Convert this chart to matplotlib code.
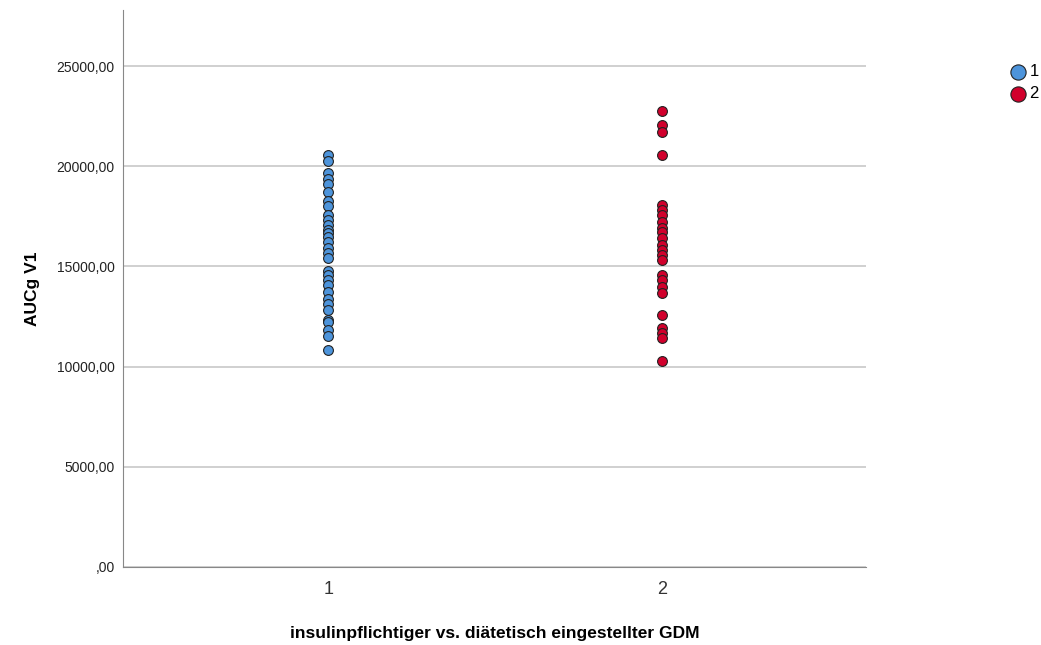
import numpy as np
import matplotlib
matplotlib.use("Agg")
import matplotlib.pyplot as plt

plt.rcParams["font.family"] = ["Liberation Sans", "DejaVu Sans"]

# AUCg V1 per group (1 = insulinpflichtig, 2 = diätetisch eingestellt)
group_labels = ["1", "2"]
auc_group1 = [20560, 20260, 19660, 19360, 19110, 18710, 18260, 18010, 17560,
              17310, 17060, 16810, 16660, 16460, 16210, 15910, 15660, 15410,
              14760, 14560, 14310, 14060, 13710, 13360, 13110, 12810, 12310,
              12210, 11810, 11510, 10810]
auc_group2 = [22760, 22060, 21710, 20560, 18060, 17810, 17560, 17210, 16910,
              16710, 16410, 16060, 15810, 15560, 15310, 14560, 14310, 13960,
              13660, 12560, 11910, 11660, 11410, 10260]
y_ticks = [0, 5000, 10000, 15000, 20000, 25000]

colors = ["#4d94db", "#d1002c"]

fig = plt.figure(figsize=(10.41, 6.45), dpi=100)
ax = fig.add_axes([123 / 1041, 1 - 567 / 645, 743 / 1041, 557 / 645])

for i, vals in enumerate([auc_group1, auc_group2]):
    ax.scatter(np.full(len(vals), i + 1), vals, s=50, c=colors[i],
               edgecolors="#222222", linewidths=0.8, zorder=3,
               label=group_labels[i])

ax.set_xlim(0.385, 2.612)
ax.set_ylim(0, 27800)
ax.set_xticks([1, 2])
ax.set_xticklabels(group_labels, fontsize=13, color="#333333")
ax.set_yticks(y_ticks)
ax.set_yticklabels([f"{v},00" if v else ",00" for v in y_ticks],
                   fontsize=10, color="#222222")
ax.yaxis.grid(True, color="#c8c8c8", linewidth=1.2)
ax.set_axisbelow(True)
for side in ["top", "right"]:
    ax.spines[side].set_visible(False)
for side in ["left", "bottom"]:
    ax.spines[side].set_color("#888888")
ax.tick_params(axis="both", length=0, pad=6)
ax.tick_params(axis="x", pad=10)

ax.set_xlabel("insulinpflichtiger vs. diätetisch eingestellter GDM",
              fontsize=12.5, fontweight="bold", labelpad=20)
ax.set_ylabel("AUCg V1", fontsize=12.5, fontweight="bold", labelpad=12)

fig.legend(loc="upper right", bbox_to_anchor=(1039 / 1041, 1 - 64 / 645),
           frameon=False, handletextpad=-0.3, labelspacing=0.45,
           fontsize=12, markerscale=1.55, borderaxespad=0,
           borderpad=0)

fig.savefig("out.png", dpi=100)
